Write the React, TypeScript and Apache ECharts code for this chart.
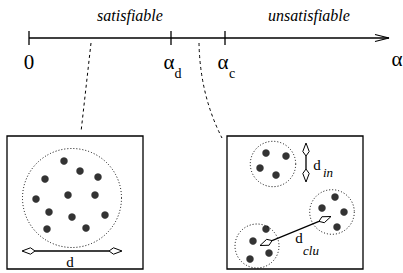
import React, { useEffect, useRef } from "react";
import * as echarts from "echarts";

// ---- data ----
const regionLabels = ["satisfiable", "unsatisfiable"];
const regionLabelX = [130, 309];
const tickPositions = [29, 171, 225];
const tickMain = ["0", "α", "α"];
const tickSub = ["", "d", "c"];

// single-cluster box: points (x, y)
const bigClusterX = [64, 80, 45, 98, 36, 68, 95, 49, 72, 105, 47, 86];
const bigClusterY = [161, 171, 179, 177, 199, 195, 195, 212, 217, 215, 229, 228];

// clustered box
const cluster1X = [266, 286, 260, 276];
const cluster1Y = [153, 156, 168, 175];
const cluster2X = [335, 322, 344, 337];
const cluster2Y = [197, 208, 212, 227];
const cluster3X = [266, 253, 269, 250];
const cluster3Y = [229, 241, 253, 259];

const W = 403;
const H = 273;

function zip(xs: number[], ys: number[]) {
  return xs.map((x, i) => [x, ys[i]]);
}

function kite(tx: number, ty: number, bx: number, by: number) {
  const dx = bx - tx;
  const dy = by - ty;
  const len = Math.hypot(dx, dy);
  const ux = dx / len;
  const uy = dy / len;
  const nx = -uy;
  const ny = ux;
  const L = 13;
  const M = 8.5;
  const hw = 3.2;
  return [
    [tx, ty],
    [tx + ux * M + nx * hw, ty + uy * M + ny * hw],
    [tx + ux * L, ty + uy * L],
    [tx + ux * M - nx * hw, ty + uy * M - ny * hw],
  ];
}

function doubleArrow(x1: number, y1: number, x2: number, y2: number) {
  const els: any[] = [];
  const dx = x2 - x1;
  const dy = y2 - y1;
  const len = Math.hypot(dx, dy);
  const ux = dx / len;
  const uy = dy / len;
  els.push({
    type: "line",
    shape: { x1: x1 + ux * 13, y1: y1 + uy * 13, x2: x2 - ux * 13, y2: y2 - uy * 13 },
    style: { stroke: "#000", lineWidth: 1.3 },
  });
  els.push({
    type: "polygon",
    shape: { points: kite(x1, y1, x2, y2) },
    style: { fill: "#fff", stroke: "#000", lineWidth: 1 },
  });
  els.push({
    type: "polygon",
    shape: { points: kite(x2, y2, x1, y1) },
    style: { fill: "#fff", stroke: "#000", lineWidth: 1 },
  });
  return els;
}

const SERIF = "Liberation Serif";

function txt(x: number, y: number, t: string, size: number, italic = false) {
  return {
    type: "text",
    x,
    y,
    style: {
      text: t,
      fontFamily: SERIF,
      fontSize: size,
      fontStyle: italic ? "italic" : "normal",
      fill: "#000",
      align: "center",
      verticalAlign: "middle",
    },
  };
}

export default function App() {
  const ref = useRef<HTMLDivElement>(null);
  useEffect(() => {
    if (!ref.current) return;
    const chart = echarts.init(ref.current, null, { renderer: "svg" });
    const g: any[] = [];

    // main axis
    g.push({ type: "line", shape: { x1: 29, y1: 38, x2: 389, y2: 38 }, style: { stroke: "#000", lineWidth: 1.3 } });
    g.push({
      type: "polyline",
      shape: { points: [[375, 34.5], [389, 38], [375, 41.5]] },
      style: { stroke: "#000", fill: null, lineWidth: 1.1 },
    });
    tickPositions.forEach((x, i) => {
      g.push({ type: "line", shape: { x1: x, y1: 31, x2: x, y2: 45 }, style: { stroke: "#000", lineWidth: 1.3 } });
      g.push(txt(tickSub[i] ? x - 2 : x, 62, tickMain[i], 21));
      if (tickSub[i]) {
        g.push(txt(x + 7, 73, tickSub[i], 14));
      }
    });
    g.push(txt(397, 59, "α", 21));
    regionLabels.forEach((t, i) => {
      g.push(txt(regionLabelX[i], 15, t, 16, true));
    });

    // connectors
    g.push({
      type: "line",
      shape: { x1: 91, y1: 43, x2: 81, y2: 132 },
      style: { stroke: "#000", lineWidth: 1, lineDash: [3, 3] },
    });
    g.push({
      type: "bezierCurve",
      shape: { x1: 199, y1: 43, cpx1: 200, cpy1: 95, x2: 222, y2: 138 },
      style: { stroke: "#000", lineWidth: 1, lineDash: [3, 3], fill: null },
    });

    // boxes
    g.push({ type: "rect", shape: { x: 7, y: 136, width: 136, height: 133 }, style: { stroke: "#000", fill: null, lineWidth: 1.3 } });
    g.push({ type: "rect", shape: { x: 227, y: 136, width: 136, height: 133 }, style: { stroke: "#000", fill: null, lineWidth: 1.3 } });

    // dotted cluster circles
    const circ = (cx: number, cy: number, r: number) => ({
      type: "circle",
      shape: { cx, cy, r },
      style: { stroke: "#000", fill: null, lineWidth: 1, lineDash: [1, 2] },
    });
    g.push(circ(72, 198, 49.5));
    g.push(circ(273, 164, 22.7));
    g.push(circ(332, 212, 22.3));
    g.push(circ(257, 246, 22));

    // arrows
    g.push(...doubleArrow(22, 251, 122, 251));
    g.push(...doubleArrow(306, 143, 306, 182));
    g.push(...doubleArrow(260, 245.5, 331, 216.5));

    // arrow labels
    g.push(txt(70, 262, "d", 15));
    g.push(txt(317, 165, "d", 15));
    g.push(txt(328, 172, "in", 13, true));
    g.push(txt(299, 238, "d", 15));
    g.push(txt(311, 250, "clu", 13, true));

    const dotSeries = (name: string, xs: number[], ys: number[]) => ({
      name,
      type: "scatter",
      data: zip(xs, ys),
      symbol: "circle",
      symbolSize: 7.5,
      itemStyle: { color: "#000" },
      silent: true,
      z: 10,
    });

    chart.setOption({
      animation: false,
      grid: { left: 0, right: 0, top: 0, bottom: 0 },
      xAxis: { type: "value", min: 0, max: W, show: false },
      yAxis: { type: "value", min: 0, max: H, inverse: true, show: false },
      series: [
        dotSeries("big", bigClusterX, bigClusterY),
        dotSeries("c1", cluster1X, cluster1Y),
        dotSeries("c2", cluster2X, cluster2Y),
        dotSeries("c3", cluster3X, cluster3Y),
      ],
      graphic: g,
    });
    return () => chart.dispose();
  }, []);
  return (
    <div
      ref={ref}
      style={{ position: "absolute", left: 0, top: 0, width: W, height: H, background: "#fff" }}
    />
  );
}
